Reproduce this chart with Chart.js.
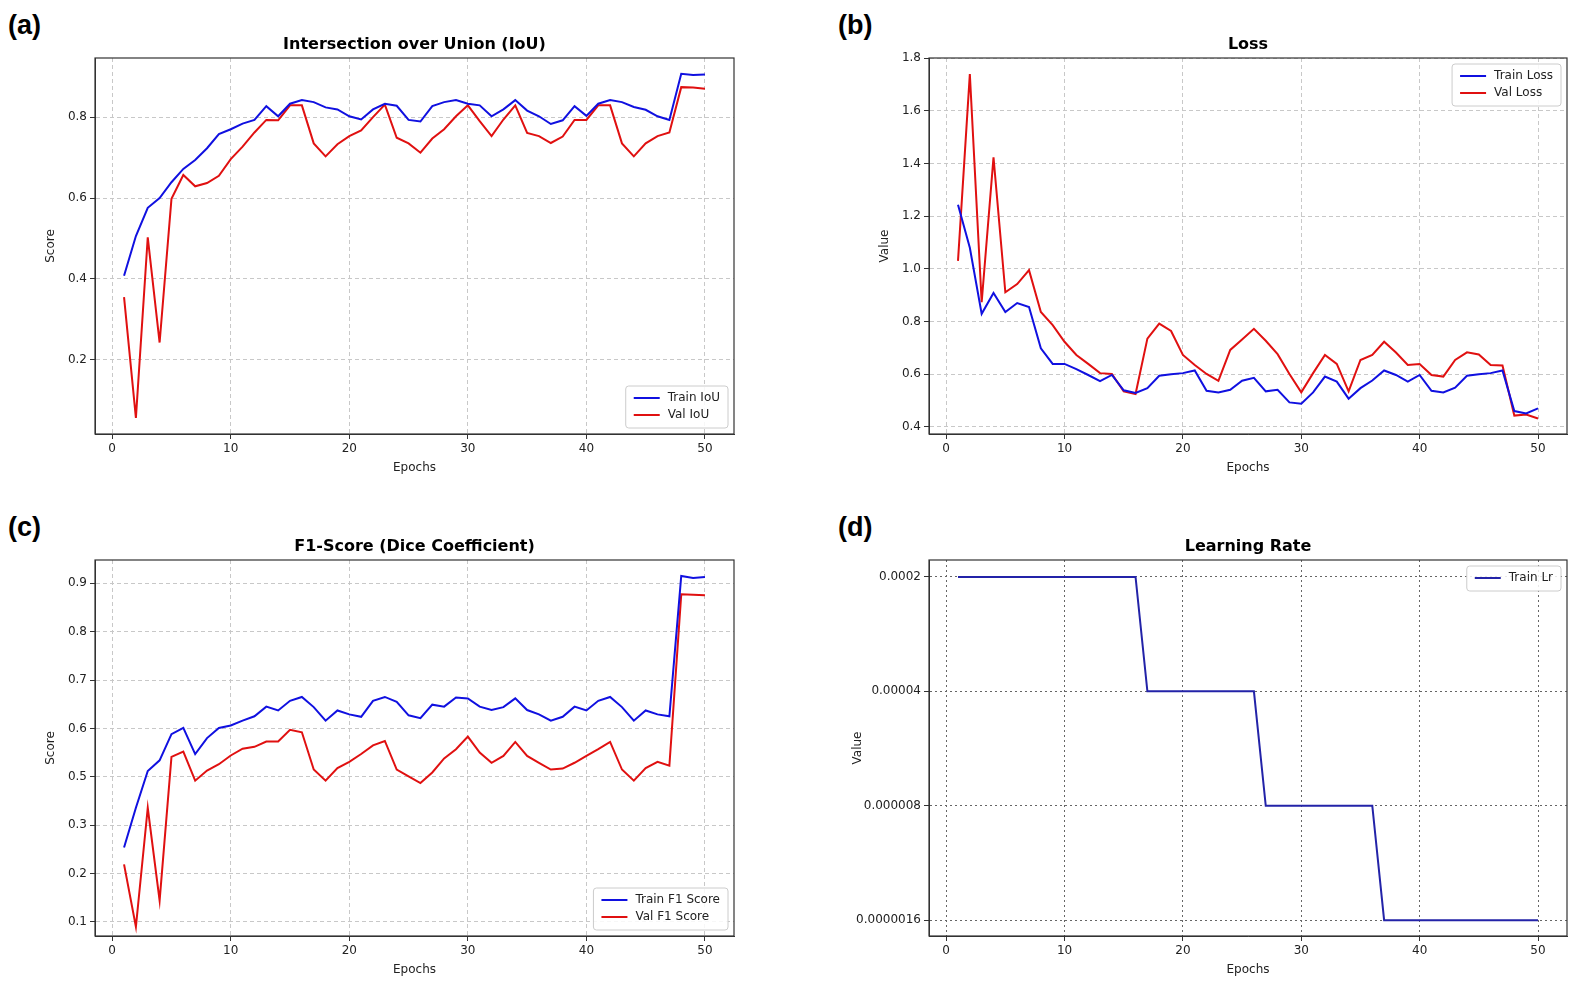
<!DOCTYPE html>
<html>
<head>
<meta charset="UTF-8">
<title>Training curves</title>
<script src="https://cdn.jsdelivr.net/npm/chart.js"></script>
<style>
  body { margin: 0; background: #fff; width: 1580px; height: 987px; position: relative; overflow: hidden; font-family: "DejaVu Sans", sans-serif; }
  .tag { position: absolute; font: bold 27px "Liberation Sans", Arial, sans-serif; color: #000; }
  canvas { position: absolute; }
</style>
</head>
<body>
<div class="tag" style="left:8px;top:10px">(a)</div>
<div class="tag" style="left:838px;top:10px">(b)</div>
<div class="tag" style="left:8px;top:512px">(c)</div>
<div class="tag" style="left:838px;top:512px">(d)</div>
<canvas id="iou" style="left:40px;top:30px"></canvas>
<canvas id="loss" style="left:874px;top:30px"></canvas>
<canvas id="f1" style="left:40px;top:532px"></canvas>
<canvas id="lr" style="left:847px;top:532px"></canvas>
<script>
const epochs = Array.from({length: 50}, (_, i) => i + 1);

const trainIoU = [0.408,0.506,0.576,0.600,0.639,0.672,0.694,0.723,0.758,0.770,0.784,0.793,0.827,0.802,0.833,0.842,0.837,0.824,0.819,0.802,
  0.794,0.819,0.833,0.828,0.793,0.789,0.827,0.837,0.842,0.833,0.829,0.802,0.819,0.842,0.816,0.802,0.783,0.792,0.827,0.803,
  0.833,0.842,0.837,0.825,0.818,0.802,0.793,0.907,0.904,0.905];
const valIoU = [0.355,0.057,0.503,0.243,0.598,0.657,0.629,0.637,0.655,0.696,0.727,0.762,0.793,0.792,0.829,0.829,0.735,0.703,0.733,0.753,
  0.767,0.800,0.831,0.749,0.735,0.712,0.747,0.770,0.802,0.829,0.790,0.753,0.794,0.829,0.761,0.753,0.736,0.752,0.793,0.793,
  0.829,0.829,0.735,0.703,0.735,0.753,0.762,0.874,0.873,0.870];

const trainLoss = [1.243,1.080,0.829,0.908,0.836,0.870,0.855,0.698,0.639,0.639,0.619,0.597,0.574,0.597,0.539,0.529,0.547,0.594,0.600,0.604,
  0.614,0.537,0.531,0.541,0.575,0.586,0.535,0.541,0.493,0.488,0.531,0.591,0.572,0.507,0.547,0.576,0.614,0.597,0.572,0.597,
  0.537,0.531,0.549,0.594,0.600,0.604,0.614,0.460,0.451,0.470];
const valLoss = [1.030,1.739,0.873,1.423,0.911,0.942,0.995,0.836,0.786,0.723,0.673,0.639,0.604,0.601,0.535,0.525,0.735,0.792,0.764,0.673,
  0.635,0.601,0.575,0.692,0.732,0.772,0.727,0.676,0.601,0.531,0.604,0.673,0.639,0.535,0.654,0.673,0.723,0.682,0.635,0.639,
  0.597,0.591,0.654,0.683,0.675,0.635,0.633,0.443,0.447,0.432];

// F1 panel: the source axis skips the 0.4 label, so values below 0.5 sit one step up
const trainF1 = [0.354,0.436,0.512,0.534,0.588,0.601,0.547,0.580,0.601,0.606,0.616,0.625,0.645,0.637,0.657,0.665,0.644,0.616,0.637,0.629,
  0.624,0.657,0.665,0.655,0.627,0.621,0.649,0.645,0.664,0.662,0.645,0.638,0.644,0.662,0.638,0.629,0.616,0.624,0.645,0.637,
  0.657,0.665,0.644,0.616,0.637,0.629,0.625,0.915,0.911,0.913];
const valF1 = [0.319,0.190,0.436,0.244,0.541,0.552,0.492,0.513,0.526,0.544,0.558,0.562,0.573,0.573,0.597,0.592,0.515,0.492,0.518,0.531,
  0.547,0.565,0.574,0.515,0.501,0.487,0.509,0.538,0.557,0.583,0.550,0.529,0.543,0.572,0.543,0.529,0.515,0.517,0.529,0.543,
  0.557,0.572,0.515,0.492,0.518,0.531,0.523,0.877,0.876,0.875];

const trainLr = epochs.map(e => e <= 16 ? 2e-4 : e <= 26 ? 4e-5 : e <= 36 ? 8e-6 : 1.6e-6);
const lrTicks = [2e-4, 4e-5, 8e-6, 1.6e-6];
const lrLabels = ['0.0002', '0.00004', '0.000008', '0.0000016'];
const xTicks = [0, 10, 20, 30, 40, 50];

Chart.defaults.font.family = '"DejaVu Sans", sans-serif';
Chart.defaults.color = '#222';
Chart.defaults.animation = false;

const innerLegend = {
  id: 'innerLegend',
  afterDraw(chart, args, opts) {
    const ctx = chart.ctx, a = chart.chartArea;
    const items = chart.data.datasets;
    ctx.save();
    ctx.font = '12px "DejaVu Sans", sans-serif';
    const w = Math.max(...items.map(d => ctx.measureText(d.label).width)) + 50;
    const h = items.length * 17 + 8;
    const x = a.right - w - 6;
    const y = opts.pos === 'lower' ? a.bottom - h - 6 : a.top + 6;
    ctx.fillStyle = 'rgba(255,255,255,0.85)';
    ctx.strokeStyle = '#ccc';
    ctx.lineWidth = 1;
    ctx.beginPath(); ctx.roundRect(x, y, w, h, 3); ctx.fill(); ctx.stroke();
    items.forEach((d, i) => {
      const cy = y + 12 + i * 17;
      ctx.strokeStyle = d.borderColor; ctx.lineWidth = 2;
      ctx.beginPath(); ctx.moveTo(x + 8, cy); ctx.lineTo(x + 34, cy); ctx.stroke();
      ctx.fillStyle = '#222'; ctx.textBaseline = 'middle';
      ctx.fillText(d.label, x + 42, cy);
    });
    // plot title above the area
    ctx.font = 'bold 16px "DejaVu Sans", sans-serif';
    ctx.textAlign = 'center'; ctx.textBaseline = 'bottom';
    ctx.fillStyle = '#000';
    ctx.fillText(opts.title, (a.left + a.right) / 2, a.top - 5);
    ctx.restore();
  }
};

function makeChart(id, w, h, datasets, yCfg, title, pos, yWidth, dotted) {
  const cv = document.getElementById(id);
  cv.width = w; cv.height = h;
  cv.style.width = w + 'px'; cv.style.height = h + 'px';
  const grid = { color: dotted ? '#666' : '#c8c8c8', lineWidth: 1, tickLength: 5,
                 tickColor: '#333' };
  const dash = dotted ? [2, 3] : [4, 3];
  return new Chart(cv, {
    type: 'line',
    data: { labels: epochs, datasets: datasets.map(d => Object.assign({
      borderWidth: 2, pointRadius: 0, tension: 0, fill: false }, d)) },
    options: {
      responsive: false,
      layout: { padding: { top: 28, right: 7 } },
      plugins: { legend: { display: false }, tooltip: { enabled: false },
                 innerLegend: { title: title, pos: pos } },
      scales: {
        x: {
          type: 'linear', min: -1.45, max: 52.45,
          afterBuildTicks: s => { s.ticks = xTicks.map(v => ({ value: v })); },
          afterFit: s => { s.height = 45; },
          grid: grid, border: { display: true, color: '#333', dash: dash },
          ticks: { font: { size: 12 }, color: '#222', maxRotation: 0 },
          title: { display: true, text: 'Epochs', font: { size: 12 }, padding: { top: 2 } }
        },
        y: Object.assign({
          afterFit: s => { s.width = yWidth; },
          grid: grid, border: { display: true, color: '#333', dash: dash },
          title: { display: true, text: yCfg.label, font: { size: 12 } }
        }, yCfg.scale)
      }
    },
    plugins: [innerLegend, {
      id: 'frame',
      afterDraw(c) {
        const a = c.chartArea, ctx = c.ctx;
        ctx.save(); ctx.strokeStyle = '#333'; ctx.lineWidth = 1.2;
        ctx.strokeRect(a.left, a.top, a.right - a.left, a.bottom - a.top);
        ctx.restore();
      }
    }]
  });
}

const blue = '#1010e0', red = '#e01010';

makeChart('iou', 701, 449, [
  { label: 'Train IoU', data: trainIoU, borderColor: blue },
  { label: 'Val IoU', data: valIoU, borderColor: red }
], { label: 'Score', scale: { min: 0.017, max: 0.946,
  afterBuildTicks: s => { s.ticks = [0.2, 0.4, 0.6, 0.8].map(v => ({ value: v })); },
  ticks: { font: { size: 12 }, color: '#222', callback: v => v.toFixed(1) } } },
  'Intersection over Union (IoU)', 'lower', 55, false);

makeChart('loss', 700, 449, [
  { label: 'Train Loss', data: trainLoss, borderColor: blue },
  { label: 'Val Loss', data: valLoss, borderColor: red }
], { label: 'Value', scale: { min: 0.373, max: 1.8,
  afterBuildTicks: s => { s.ticks = [0.4, 0.6, 0.8, 1.0, 1.2, 1.4, 1.6, 1.8].map(v => ({ value: v })); },
  ticks: { font: { size: 12 }, color: '#222', callback: v => v.toFixed(1) } } },
  'Loss', 'upper', 55, false);

makeChart('f1', 701, 449, [
  { label: 'Train F1 Score', data: trainF1, borderColor: blue },
  { label: 'Val F1 Score', data: valF1, borderColor: red }
], { label: 'Score', scale: { min: 0.171, max: 0.948,
  afterBuildTicks: s => { s.ticks = [0.2, 0.3, 0.4, 0.5, 0.6, 0.7, 0.8, 0.9].map(v => ({ value: v })); },
  ticks: { font: { size: 12 }, color: '#222',
           callback: v => (v >= 0.45 ? v : v - 0.1).toFixed(1) } } },
  'F1-Score (Dice Coefficient)', 'lower', 55, false);

makeChart('lr', 727, 449, [
  { label: 'Train Lr', data: trainLr, borderColor: '#2323a8' }
], { label: 'Value', scale: { type: 'logarithmic', min: 1.28e-6, max: 2.54e-4,
  afterBuildTicks: s => { s.ticks = lrTicks.map(v => ({ value: v })); },
  ticks: { font: { size: 12 }, color: '#222',
           callback: (v) => lrLabels[lrTicks.findIndex(t => Math.abs(t - v) / t < 1e-6)] } } },
  'Learning Rate', 'upper', 82, true);
</script>
</body>
</html>
